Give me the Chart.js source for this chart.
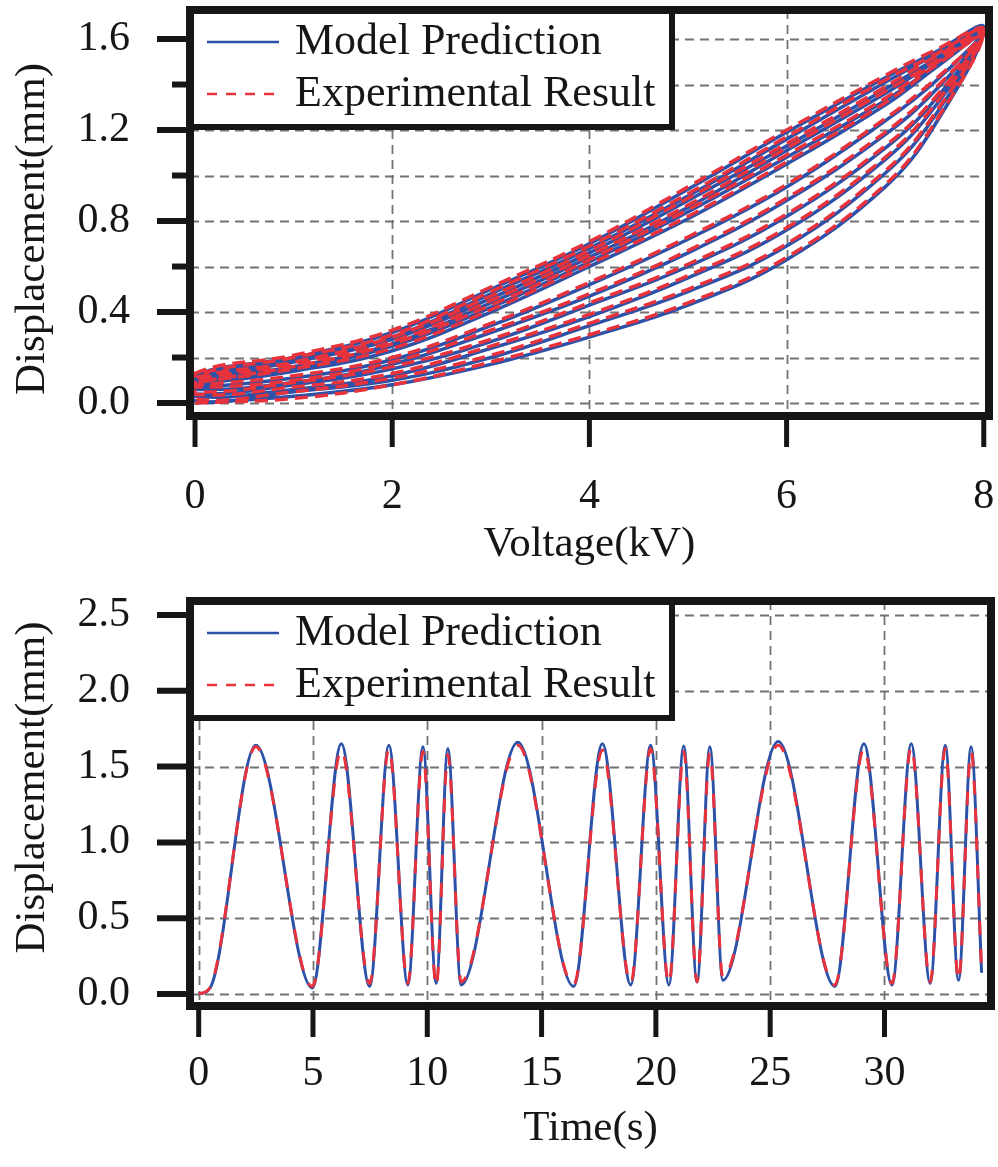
<!DOCTYPE html>
<html lang="en">
<head>
<meta charset="UTF-8">
<title>Model Prediction vs Experimental Result</title>
<script src="https://cdn.jsdelivr.net/npm/chart.js"></script>
<style>
  body { margin: 0; background: #fff; }
  #wrap { position: relative; width: 998px; height: 1167px; }
  canvas { position: absolute; left: 0; }
  #loopChart { top: 0; }
  #timeChart { top: 580px; }
</style>
</head>
<body>
<div id="wrap">
  <canvas id="loopChart" width="998" height="580"></canvas>
  <canvas id="timeChart" width="998" height="587"></canvas>
</div>
<script>
// top panel: displacement (mm) vs voltage (kV), one row per loop, read at each voltage step
const voltage = [0, 1, 2, 3, 4, 5, 6, 7, 7.5, 8];
const modelRise = [
  [0.00, 0.03, 0.08, 0.17, 0.29, 0.43, 0.63, 0.95, 1.22, 1.65],
  [0.01, 0.05, 0.10, 0.20, 0.34, 0.49, 0.69, 1.01, 1.26, 1.65],
  [0.03, 0.06, 0.12, 0.24, 0.38, 0.55, 0.76, 1.07, 1.30, 1.64],
  [0.04, 0.08, 0.15, 0.27, 0.43, 0.60, 0.82, 1.12, 1.33, 1.64],
  [0.06, 0.09, 0.17, 0.31, 0.47, 0.66, 0.89, 1.18, 1.37, 1.63],
  [0.07, 0.11, 0.19, 0.34, 0.52, 0.72, 0.95, 1.24, 1.41, 1.63]
];
const modelFall = [
  [0.12, 0.20, 0.31, 0.50, 0.70, 0.94, 1.19, 1.43, 1.54, 1.65],
  [0.11, 0.19, 0.29, 0.48, 0.68, 0.91, 1.16, 1.41, 1.53, 1.65],
  [0.10, 0.18, 0.28, 0.46, 0.66, 0.89, 1.13, 1.38, 1.51, 1.64],
  [0.10, 0.16, 0.26, 0.44, 0.64, 0.86, 1.11, 1.36, 1.50, 1.64],
  [0.09, 0.15, 0.25, 0.42, 0.62, 0.84, 1.08, 1.33, 1.48, 1.63],
  [0.08, 0.14, 0.23, 0.40, 0.60, 0.81, 1.05, 1.31, 1.47, 1.63]
];
const expRise = [
  [0.00, 0.02, 0.08, 0.18, 0.30, 0.44, 0.64, 0.96, 1.23, 1.64],
  [0.02, 0.05, 0.11, 0.21, 0.35, 0.50, 0.70, 1.02, 1.27, 1.64],
  [0.04, 0.07, 0.13, 0.25, 0.39, 0.56, 0.77, 1.08, 1.31, 1.63],
  [0.05, 0.09, 0.16, 0.28, 0.44, 0.61, 0.83, 1.13, 1.34, 1.63],
  [0.07, 0.10, 0.18, 0.32, 0.48, 0.67, 0.90, 1.19, 1.38, 1.62],
  [0.08, 0.12, 0.20, 0.35, 0.53, 0.73, 0.96, 1.25, 1.42, 1.62]
];
const expFall = [
  [0.13, 0.21, 0.32, 0.51, 0.71, 0.95, 1.20, 1.44, 1.55, 1.64],
  [0.12, 0.20, 0.30, 0.49, 0.69, 0.92, 1.17, 1.42, 1.53, 1.64],
  [0.11, 0.18, 0.29, 0.47, 0.67, 0.90, 1.14, 1.39, 1.52, 1.63],
  [0.10, 0.17, 0.27, 0.45, 0.65, 0.87, 1.12, 1.37, 1.50, 1.63],
  [0.09, 0.16, 0.26, 0.43, 0.63, 0.85, 1.09, 1.34, 1.49, 1.62],
  [0.09, 0.15, 0.24, 0.41, 0.61, 0.82, 1.06, 1.32, 1.48, 1.62]
];

// bottom panel: displacement (mm) vs time (s), peaks and valleys
const timeSec = [0, 0.5, 2.5, 4.97, 6.24, 7.48, 8.32, 9.15, 9.81, 10.39, 10.9, 11.48, 13.96, 16.4, 17.66, 18.9,
  19.77, 20.57, 21.22, 21.8, 22.36, 22.93, 25.35, 27.83, 29.1, 30.33, 31.17, 32.0, 32.66, 33.24, 33.79, 34.25];
const modelDisp = [0.0, 0.04, 1.64, 0.04, 1.65, 0.05, 1.64, 0.06, 1.63, 0.07, 1.62, 0.06, 1.66, 0.05, 1.65, 0.06,
  1.64, 0.06, 1.635, 0.08, 1.63, 0.09, 1.665, 0.05, 1.65, 0.06, 1.65, 0.07, 1.64, 0.09, 1.63, 0.14];
const expDisp = [0.0, 0.045, 1.63, 0.05, 1.61, 0.07, 1.62, 0.07, 1.60, 0.05, 1.58, 0.08, 1.64, 0.06, 1.61, 0.07,
  1.62, 0.07, 1.60, 0.08, 1.59, 0.11, 1.64, 0.06, 1.62, 0.07, 1.63, 0.08, 1.62, 0.09, 1.60, 0.15];

// tick values
const voltTicks = [0, 2, 4, 6, 8];
const loopDispTicks = [0, 0.2, 0.4, 0.6, 0.8, 1.0, 1.2, 1.4, 1.6];
const loopDispLabeled = [0, 0.4, 0.8, 1.2, 1.6];
const timeTicks = [0, 5, 10, 15, 20, 25, 30];
const timeDispTicks = [0, 0.5, 1.0, 1.5, 2.0, 2.5];

const BLUE = '#2b51a8';
const RED = '#e8323c';
const INK = '#161616';
const SERIF = '"Liberation Serif", "Times New Roman", serif';

Chart.defaults.font.family = SERIF;
Chart.defaults.color = INK;

function loopPoints(rise, fall) {
  const pts = [];
  rise.forEach((row, i) => {
    voltage.forEach((v, j) => pts.push({ x: v, y: row[j] }));
    for (let j = voltage.length - 2; j >= 0; j--) pts.push({ x: voltage[j], y: fall[i][j] });
  });
  return pts;
}

// dashed grid, black frame, outside tick marks, boxed legend, y title
const panelDeco = {
  id: 'panelDeco',
  beforeDatasetsDraw(chart) {
    const { ctx, chartArea: a, scales: { x, y } } = chart;
    ctx.save();
    ctx.strokeStyle = '#737373';
    ctx.lineWidth = 1.8;
    ctx.setLineDash([9, 6]);
    y.ticks.forEach(t => {
      const py = Math.round(y.getPixelForValue(t.value)) + 0.5;
      ctx.beginPath(); ctx.moveTo(a.left, py); ctx.lineTo(a.right, py); ctx.stroke();
    });
    x.ticks.forEach(t => {
      const px = Math.round(x.getPixelForValue(t.value)) + 0.5;
      if (px - a.left < 8 || a.right - px < 8) return;
      ctx.beginPath(); ctx.moveTo(px, a.top); ctx.lineTo(px, a.bottom); ctx.stroke();
    });
    ctx.restore();
  },
  afterDatasetsDraw(chart, args, opts) {
    const { ctx, chartArea: a, scales: { x, y } } = chart;
    ctx.save();
    // legend box
    const w = 482, h = 117;
    ctx.fillStyle = '#fff';
    ctx.fillRect(a.left, a.top, w, h);
    ctx.lineWidth = 6;
    ctx.strokeStyle = INK;
    ctx.strokeRect(a.left, a.top, w, h);
    const rows = [32, 84];
    chart.data.datasets.forEach((ds, i) => {
      const yy = a.top + rows[i];
      ctx.beginPath();
      ctx.lineWidth = 2.5;
      ctx.strokeStyle = ds.borderColor;
      ctx.setLineDash(ds.borderDash ? [10, 9] : []);
      ctx.moveTo(a.left + 17, yy);
      ctx.lineTo(a.left + 89, yy);
      ctx.stroke();
      ctx.setLineDash([]);
      ctx.fillStyle = INK;
      ctx.font = '44px ' + SERIF;
      ctx.textBaseline = 'middle';
      ctx.textAlign = 'left';
      ctx.fillText(ds.label, a.left + 105, yy);
    });
    // frame
    ctx.lineWidth = 8;
    ctx.strokeStyle = INK;
    ctx.strokeRect(a.left, a.top, a.right - a.left, a.bottom - a.top);
    // tick marks
    ctx.lineWidth = 6;
    y.ticks.forEach(t => {
      const py = y.getPixelForValue(t.value);
      const len = t.label === '' ? 18 : 33;
      ctx.beginPath(); ctx.moveTo(a.left - len, py); ctx.lineTo(a.left, py); ctx.stroke();
    });
    ctx.lineWidth = 5;
    x.ticks.forEach(t => {
      const px = x.getPixelForValue(t.value);
      ctx.beginPath(); ctx.moveTo(px, a.bottom); ctx.lineTo(px, a.bottom + 31); ctx.stroke();
    });
    // y axis title
    ctx.translate(33, (a.top + a.bottom) / 2 + (opts.titleShift || 0));
    ctx.rotate(-Math.PI / 2);
    ctx.font = '43px ' + SERIF;
    ctx.fillStyle = INK;
    ctx.textAlign = 'center';
    ctx.textBaseline = 'middle';
    ctx.fillText(opts.yTitle, 0, 0);
    ctx.restore();
  }
};

function axisX(min, max, values, title, labelPad, titlePad, height) {
  return {
    type: 'linear', min, max,
    afterBuildTicks: s => { s.ticks = values.map(v => ({ value: v })); },
    afterFit: s => { s.height = height; s.paddingLeft = 0; s.paddingRight = 0; },
    grid: { display: false },
    border: { display: false },
    ticks: { autoSkip: false, maxRotation: 0, padding: labelPad, font: { size: 42 }, callback: v => String(v) },
    title: { display: true, text: title, font: { size: 43 }, padding: { top: 0, bottom: titlePad } }
  };
}
function axisY(min, max, values, fmt) {
  return {
    type: 'linear', min, max,
    afterBuildTicks: s => { s.ticks = values.map(v => ({ value: v })); },
    afterFit: s => { s.width = 190; s.paddingTop = 0; s.paddingBottom = 0; },
    grid: { display: false },
    border: { display: false },
    ticks: { autoSkip: false, padding: 52, font: { size: 42 }, callback: fmt }
  };
}

new Chart(document.getElementById('loopChart'), {
  type: 'line',
  data: {
    datasets: [
      { label: 'Model Prediction', data: loopPoints(modelRise, modelFall), borderColor: BLUE,
        borderWidth: 3.5, pointRadius: 0, tension: 0.4, order: 2 },
      { label: 'Experimental Result', data: loopPoints(expRise, expFall), borderColor: RED,
        borderWidth: 3.5, borderDash: [13, 7], pointRadius: 0, tension: 0.4, order: 1 }
    ]
  },
  options: {
    responsive: false, animation: false, devicePixelRatio: 1,
    layout: { padding: { top: 10, left: 0, right: 9, bottom: 0 } },
    plugins: {
      legend: { display: false }, tooltip: { enabled: false },
      panelDeco: { yTitle: 'Displacement(mm)', titleShift: 16 }
    },
    scales: {
      x: axisX(-0.051, 8.053, voltTicks, 'Voltage(kV)', 48, 9, 164),
      y: axisY(-0.057, 1.7275, loopDispTicks, v => loopDispLabeled.includes(v) ? v.toFixed(1) : '')
    }
  },
  plugins: [panelDeco]
});

new Chart(document.getElementById('timeChart'), {
  type: 'line',
  data: {
    datasets: [
      { label: 'Model Prediction', data: timeSec.map((t, i) => ({ x: t, y: modelDisp[i] })), borderColor: BLUE,
        borderWidth: 3, pointRadius: 0, cubicInterpolationMode: 'monotone', order: 2 },
      { label: 'Experimental Result', data: timeSec.map((t, i) => ({ x: t, y: expDisp[i] })), borderColor: RED,
        borderWidth: 3, borderDash: [14, 14], pointRadius: 0, cubicInterpolationMode: 'monotone', order: 1 }
    ]
  },
  options: {
    responsive: false, animation: false, devicePixelRatio: 1,
    layout: { padding: { top: 21, left: 0, right: 7, bottom: 0 } },
    plugins: {
      legend: { display: false }, tooltip: { enabled: false },
      panelDeco: { yTitle: 'Displacement(mm)', titleShift: -16 }
    },
    scales: {
      x: axisX(-0.38, 34.66, timeTicks, 'Time(s)', 35, 12, 161),
      y: axisY(-0.079, 2.592, timeDispTicks, v => v.toFixed(1))
    }
  },
  plugins: [panelDeco]
});
</script>
</body>
</html>
